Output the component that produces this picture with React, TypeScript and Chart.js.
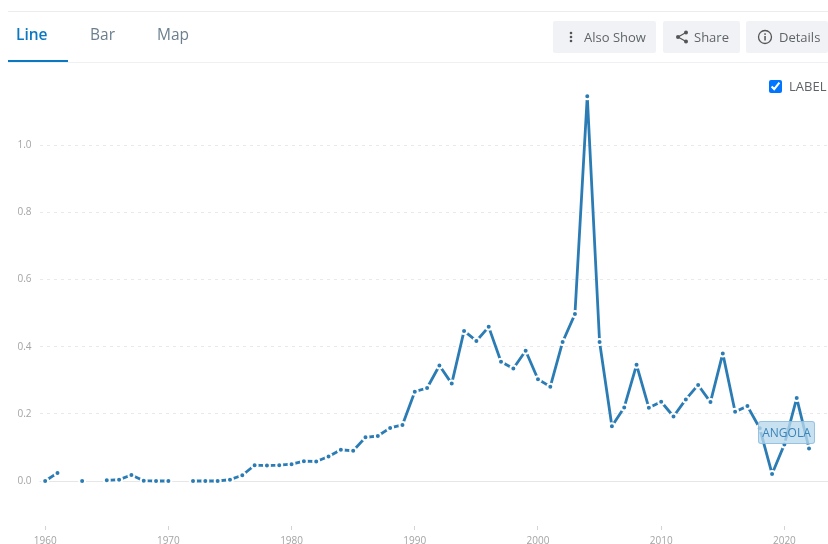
import React, { useEffect, useRef } from "react";
import { Chart, registerables } from "chart.js";

Chart.register(...registerables);

const years = [
  1960, 1961, 1962, 1963, 1964, 1965, 1966, 1967, 1968, 1969, 1970, 1971, 1972, 1973, 1974, 1975, 1976, 1977, 1978, 1979,
  1980, 1981, 1982, 1983, 1984, 1985, 1986, 1987, 1988, 1989, 1990, 1991, 1992, 1993, 1994, 1995, 1996, 1997, 1998, 1999,
  2000, 2001, 2002, 2003, 2004, 2005, 2006, 2007, 2008, 2009, 2010, 2011, 2012, 2013, 2014, 2015, 2016, 2017, 2018, 2019,
  2020, 2021, 2022,
];
const angola: (number | null)[] = [
  0.0, 0.024, null, 0.0, null, 0.002, 0.004, 0.018, 0.001, 0.0, 0.0, null, 0.0, 0.0, 0.0, 0.004, 0.017, 0.047, 0.046, 0.047,
  0.05, 0.059, 0.058, 0.073, 0.093, 0.09, 0.13, 0.134, 0.158, 0.167, 0.266, 0.277, 0.344, 0.29, 0.447, 0.417, 0.459, 0.355, 0.335, 0.388,
  0.303, 0.281, 0.414, 0.497, 1.146, 0.414, 0.163, 0.219, 0.346, 0.218, 0.236, 0.192, 0.243, 0.286, 0.235, 0.38, 0.206, 0.223, 0.157, 0.021,
  0.109, 0.247, 0.097,
];
const yTicks = [0, 0.2, 0.4, 0.6, 0.8, 1.0];
const xTicks = [1960, 1970, 1980, 1990, 2000, 2010, 2020];
const tabs = ["Line", "Bar", "Map"];
const seriesName = "ANGOLA";

const FONT = '"Open Sans", sans-serif';

const btn: React.CSSProperties = {
  position: "absolute",
  top: 21,
  height: 32,
  background: "#f1f2f5",
  borderRadius: 2,
  color: "#5f6468",
  fontSize: 13,
  lineHeight: "32px",
  boxSizing: "border-box",
  whiteSpace: "nowrap",
};

export default function App() {
  const ref = useRef<HTMLCanvasElement | null>(null);
  useEffect(() => {
    document.body.style.margin = "0";
    const chart = new Chart(ref.current as HTMLCanvasElement, {
      type: "line",
      data: {
        labels: years,
        datasets: [
          {
            label: seriesName,
            data: years.map((y, i) => ({ x: y, y: angola[i] })) as any,
            borderColor: "#2b7cb5",
            backgroundColor: "#2b7cb5",
            borderWidth: 2.8,
            borderJoinStyle: "round",
            tension: 0,
            spanGaps: false,
            pointRadius: 3,
            pointBorderWidth: 2,
            pointBorderColor: "#ffffff",
            pointBackgroundColor: "#2b7cb5",
            clip: false as any,
          },
        ],
      },
      options: {
        animation: false,
        responsive: false,
        events: [],
        layout: { autoPadding: false, padding: { top: 78, left: 0, right: 0, bottom: 0 } },
        plugins: { legend: { display: false }, tooltip: { enabled: false } },
        scales: {
          x: {
            type: "linear",
            min: 1959.54,
            max: 2023.54,
            afterFit: (s: any) => {
              s.height = 18;
              s.paddingLeft = 0;
              s.paddingRight = 0;
            },
            afterBuildTicks: (s: any) => {
              s.ticks = xTicks.map((v) => ({ value: v }));
            },
            border: { display: false },
            grid: { drawOnChartArea: false, drawTicks: true, tickLength: 4, color: "#d5d5d5" },
            ticks: {
              autoSkip: false,
              maxRotation: 0,
              padding: 5,
              color: "#a4a4a4",
              font: { family: FONT, size: 10 },
              callback: (v: any) => String(v),
            },
          },
          y: {
            type: "linear",
            min: -0.134,
            max: 1.2,
            afterFit: (s: any) => {
              s.width = 39.5;
              s.paddingTop = 0;
              s.paddingBottom = 0;
            },
            afterBuildTicks: (s: any) => {
              s.ticks = yTicks.map((v) => ({ value: v }));
            },
            grid: {
              drawTicks: false,
              color: (c: any) => (c.tick && c.tick.value === 0 ? "rgba(0,0,0,0)" : "#e9e9e9"),
              lineWidth: 1,
            },
            border: { display: false, dash: [3, 4] },
            ticks: {
              padding: 8,
              color: "#a4a4a4",
              font: { family: FONT, size: 10 },
              callback: (v: any) => Number(v).toFixed(1),
            },
          } as any,
        },
      },
      plugins: [
        {
          id: "zeroLine",
          beforeDatasetsDraw(c: any) {
            const { ctx, scales, chartArea } = c;
            const y = Math.round(scales.y.getPixelForValue(0)) + 0.5;
            ctx.save();
            ctx.strokeStyle = "#e6e6e6";
            ctx.lineWidth = 1;
            ctx.beginPath();
            ctx.moveTo(chartArea.left, y);
            ctx.lineTo(chartArea.right, y);
            ctx.stroke();
            ctx.restore();
          },
        },
      ],
    });
    return () => chart.destroy();
  }, []);

  return (
    <div style={{ position: "relative", width: 828, height: 544, overflow: "hidden", fontFamily: FONT, background: "#fff" }}>
      <canvas ref={ref} width={828} height={544} style={{ position: "absolute", left: 0, top: 0, display: "block" }} />
      <div style={{ position: "absolute", left: 8, right: 0, top: 11, height: 1, background: "#ebecee" }} />
      <div style={{ position: "absolute", left: 8, right: 0, top: 62, height: 1, background: "#eef0f1" }} />
      <div style={{ position: "absolute", left: 8, width: 60, top: 60, height: 2, background: "#0a78c2" }} />
      {tabs.map((t, i) => (
        <div
          key={t}
          style={{
            position: "absolute",
            left: [16, 90, 157][i],
            top: 23,
            fontSize: 15.5,
            lineHeight: "22px",
            fontWeight: i === 0 ? 600 : 400,
            color: i === 0 ? "#0a78c2" : "#6b7f8f",
          }}
        >
          {t}
        </div>
      ))}
      <div style={{ ...btn, left: 553, width: 103 }}>
        <svg width="4" height="12" style={{ position: "absolute", left: 16, top: 10 }}>
          <circle cx="2" cy="2" r="1.3" fill="#555" />
          <circle cx="2" cy="6" r="1.3" fill="#555" />
          <circle cx="2" cy="10" r="1.3" fill="#555" />
        </svg>
        <span style={{ position: "absolute", left: 31 }}>Also Show</span>
      </div>
      <div style={{ ...btn, left: 663, width: 77 }}>
        <svg width="14" height="14" style={{ position: "absolute", left: 12, top: 9 }}>
          <path d="M11 2.5 L3 7 L11 11.5" stroke="#555" strokeWidth="1.2" fill="none" />
          <circle cx="11" cy="2.5" r="2" fill="#555" />
          <circle cx="3" cy="7" r="2" fill="#555" />
          <circle cx="11" cy="11.5" r="2" fill="#555" />
        </svg>
        <span style={{ position: "absolute", left: 31 }}>Share</span>
      </div>
      <div style={{ ...btn, left: 746, width: 82 }}>
        <svg width="16" height="16" style={{ position: "absolute", left: 11, top: 8 }}>
          <circle cx="8" cy="8" r="6.5" stroke="#555" strokeWidth="1.3" fill="none" />
          <rect x="7.3" y="7" width="1.5" height="4.5" fill="#555" />
          <rect x="7.3" y="4.3" width="1.5" height="1.6" fill="#555" />
        </svg>
        <span style={{ position: "absolute", left: 33 }}>Details</span>
      </div>
      <input
        type="checkbox"
        defaultChecked
        style={{ position: "absolute", left: 769, top: 80, width: 13, height: 13, margin: 0, accentColor: "#0075ff" }}
      />
      <div style={{ position: "absolute", left: 789, top: 78, fontSize: 13, lineHeight: "17px", color: "#5f6468" }}>LABEL</div>
      <div
        style={{
          position: "absolute",
          left: 758,
          top: 421,
          width: 57,
          height: 23,
          boxSizing: "border-box",
          background: "rgba(185,216,236,0.78)",
          border: "1px solid rgba(130,182,220,0.7)",
          borderRadius: 3,
          color: "#3a84bb",
          fontSize: 12,
          lineHeight: "21px",
          textAlign: "center",
        }}
      >
        {seriesName}
      </div>
    </div>
  );
}
